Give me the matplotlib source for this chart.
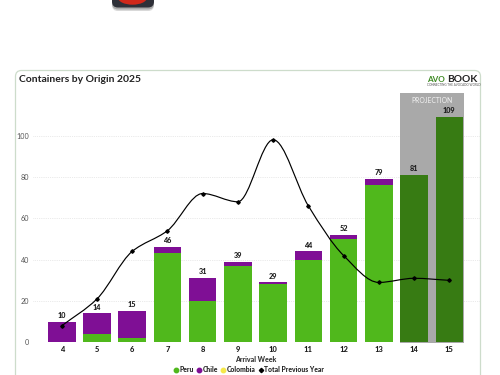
"""Containers by Origin 2025: stacked bars per arrival week with last year's total."""

import matplotlib

matplotlib.use("Agg")

import matplotlib.pyplot as plt
import numpy as np
from matplotlib.lines import Line2D
from matplotlib.patches import Ellipse, FancyBboxPatch, PathPatch, Rectangle
from matplotlib.path import Path

WEEKS = [4, 5, 6, 7, 8, 9, 10, 11, 12, 13, 14, 15]
PERU = [0, 4, 2, 43, 20, 37, 28, 40, 50, 76, 0, 0]
CHILE = [10, 10, 13, 3, 11, 2, 1, 4, 2, 3, 0, 0]
COLOMBIA = [0, 0, 0, 0, 0, 0, 0, 0, 0, 0, 0, 0]
PROJECTED = [0, 0, 0, 0, 0, 0, 0, 0, 0, 0, 81, 109]
PREVIOUS_YEAR = [8, 21, 44, 54, 72, 68, 98, 66, 42, 29, 31, 30]
TOTALS = [10, 14, 15, 46, 31, 39, 29, 44, 52, 79, 81, 109]
PROJECTION_WEEKS = [14, 15]
Y_TICKS = [0, 20, 40, 60, 80, 100]

WIDTH, HEIGHT = 500, 375
GREEN = "#50b81c"
PURPLE = "#7f0f95"
YELLOW = "#f6e84a"
DARK_GREEN = "#377b13"
SMALL_BOLD = "black"

plt.rcParams["font.family"] = ["Lato", "DejaVu Sans"]


def monotone_path(xs, ys):
    """Curva monotona por trechos: tangente zero nos extremos locais."""
    xs = np.array(xs, dtype=float)
    ys = np.array(ys, dtype=float)
    secants = np.diff(ys) / np.diff(xs)
    slopes = np.zeros(len(xs))
    slopes[0] = secants[0]
    slopes[-1] = secants[-1]
    for i in range(1, len(xs) - 1):
        if secants[i - 1] * secants[i] > 0:
            slopes[i] = 2 * secants[i - 1] * secants[i] / (secants[i - 1] + secants[i])
    verts = [(xs[0], ys[0])]
    codes = [Path.MOVETO]
    for i in range(len(xs) - 1):
        dx = (xs[i + 1] - xs[i]) / 3
        verts += [
            (xs[i] + dx, ys[i] + slopes[i] * dx),
            (xs[i + 1] - dx, ys[i + 1] - slopes[i + 1] * dx),
            (xs[i + 1], ys[i + 1]),
        ]
        codes += [Path.CURVE4] * 3
    return Path(verts, codes)


def draw_page(fig):
    """Cartao de fundo, botao cortado no topo e logo, em coordenadas de pixel."""
    page = fig.add_axes([0, 0, 1, 1], zorder=0)
    page.set_xlim(0, WIDTH)
    page.set_ylim(HEIGHT, 0)
    page.axis("off")

    card = FancyBboxPatch(
        (15.5, 70.5), 465, 340,
        boxstyle="round,pad=0,rounding_size=6",
        facecolor="white", edgecolor="#cddccb", linewidth=0.9,
    )
    page.add_patch(card)

    for offset, color in [(3, "#d9d9d9"), (1.5, "#a8a8a8")]:
        page.add_patch(FancyBboxPatch(
            (112, -12), 42, 20 + offset,
            boxstyle="round,pad=0,rounding_size=6",
            facecolor=color, edgecolor="none",
        ))
    page.add_patch(FancyBboxPatch(
        (112, -12), 42, 19.5,
        boxstyle="round,pad=0,rounding_size=6",
        facecolor="#2e3038", edgecolor="none",
    ))
    page.add_patch(Ellipse((132.5, -2.3), 29, 14, facecolor="#d0281a", edgecolor="none"))

    page.text(19, 80, "Containers by Origin 2025", fontsize=7.5, fontweight="bold",
              color="#222222", va="center", ha="left")
    page.text(444.5, 79, "AVO", fontsize=5.9, fontweight="bold", color="#3d8a22",
              va="center", ha="right")
    page.text(478, 79, "BOOK", fontsize=7.4, fontweight="bold", color="#222222",
              va="center", ha="right")
    page.text(453.5, 85.3, "CONNECTING THE AVOCADO WORLD", fontsize=2.2, color="#555555",
              va="center", ha="center")


def main():
    fig = plt.figure(figsize=(WIDTH / 100, HEIGHT / 100), dpi=100)
    draw_page(fig)

    zero_px, unit_px = 342.4, 2.068
    left_px, right_px = 33.0, 480.0
    top_px = 93.0
    ax = fig.add_axes(
        [left_px / WIDTH, 1 - zero_px / HEIGHT,
         (right_px - left_px) / WIDTH, (zero_px - top_px) / HEIGHT],
        zorder=1,
    )
    ax.patch.set_alpha(0)
    ax.set_xlim(3.186, 15.87)
    ax.set_ylim(0, (zero_px - top_px) / unit_px)

    # faixa cinza da projecao
    band_left = PROJECTION_WEEKS[0] - 0.39
    band_right = PROJECTION_WEEKS[-1] + 0.42
    ax.add_patch(Rectangle(
        (band_left, -0.4), band_right - band_left, ax.get_ylim()[1] + 0.4,
        facecolor="#a9a9a9", edgecolor="none", zorder=1, clip_on=False,
    ))
    ax.text((band_left + band_right) / 2, 117.0, "PROJECTION", fontsize=4.9,
            color="#f2f2f2", ha="center", va="center", zorder=5)

    weeks = np.array(WEEKS)
    peru = np.array(PERU)
    chile = np.array(CHILE)
    colombia = np.array(COLOMBIA)
    bar_width = 0.785
    bar_style = {"width": bar_width, "zorder": 2, "linewidth": 0}
    ax.bar(weeks, peru, color=GREEN, **bar_style)
    ax.bar(weeks, chile, bottom=peru, color=PURPLE, **bar_style)
    ax.bar(weeks, colombia, bottom=peru + chile, color=YELLOW, **bar_style)
    ax.bar(weeks, PROJECTED, color=DARK_GREEN, **bar_style)

    for week, total in zip(WEEKS, TOTALS):
        ax.text(week, total + 1.4, str(total), fontsize=5.2, fontweight=SMALL_BOLD,
                color="#1c1c1c", ha="center", va="bottom", zorder=6)

    ax.add_patch(PathPatch(monotone_path(WEEKS, PREVIOUS_YEAR), facecolor="none",
                           edgecolor="black", linewidth=0.85, zorder=4))
    ax.plot(WEEKS, PREVIOUS_YEAR, linestyle="none", marker="D", markersize=1.8,
            color="black", zorder=5)

    ax.set_xticks(WEEKS)
    ax.set_xticklabels([str(w) for w in WEEKS], fontsize=5.4, fontweight=SMALL_BOLD,
                       color="#1c1c1c")
    ax.set_yticks(Y_TICKS)
    ax.set_yticklabels([str(t) for t in Y_TICKS], fontsize=5.2, color="#555555")
    ax.tick_params(axis="both", length=0)
    ax.tick_params(axis="x", pad=2.5)
    ax.tick_params(axis="y", pad=3)
    ax.grid(axis="y", linestyle=":", linewidth=0.5, color="#d6d6d6", zorder=0)
    ax.set_axisbelow(True)
    for spine in ax.spines.values():
        spine.set_visible(False)

    fig.text(256 / WIDTH, 1 - 359.5 / HEIGHT, "Arrival Week", fontsize=5.0, fontweight=SMALL_BOLD,
             color="#333333", ha="center", va="center")

    handles = [
        Line2D([], [], linestyle="none", marker="o", markersize=3.2, color=GREEN),
        Line2D([], [], linestyle="none", marker="o", markersize=3.2, color=PURPLE),
        Line2D([], [], linestyle="none", marker="o", markersize=3.2, color=YELLOW),
        Line2D([], [], linewidth=0, marker="D", markersize=2.2, color="black"),
    ]
    legend = fig.legend(
        handles, ["Peru", "Chile", "Colombia", "Total Previous Year"],
        loc="center", bbox_to_anchor=(248.5 / WIDTH, 1 - 370 / HEIGHT), ncol=4, frameon=False,
        prop={"size": 4.9, "weight": SMALL_BOLD}, columnspacing=0.35, handletextpad=0.0,
        handlelength=0.9, borderpad=0, borderaxespad=0,
    )
    for text in legend.get_texts():
        text.set_color("#222222")

    fig.savefig("out.png", dpi=100)
    plt.close(fig)


if __name__ == "__main__":
    main()
